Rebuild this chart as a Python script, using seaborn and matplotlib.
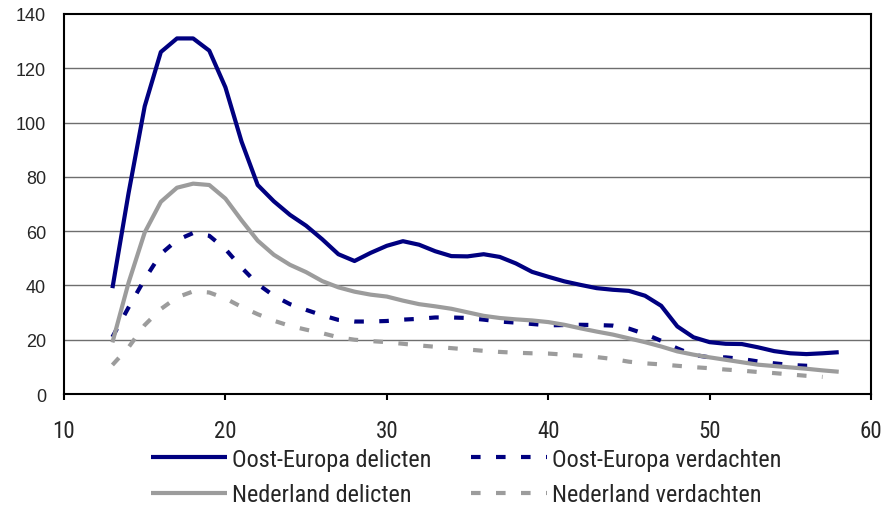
import matplotlib
matplotlib.use("Agg")
import matplotlib.pyplot as plt
from matplotlib import font_manager
from matplotlib.font_manager import FontProperties
import seaborn as sns
import pandas as pd

ages_del = list(range(13, 59))
ages_ver = list(range(13, 58))

oe_delicten = [39, 74, 106, 126, 131, 131, 126.5, 113, 93, 77, 71, 66, 62, 57, 51.5,
               49, 52, 54.6, 56.3, 55, 52.6, 50.8, 50.7, 51.5, 50.5, 48.1, 45, 43.2,
               41.5, 40.2, 39, 38.4, 38, 36.2, 32.5, 24.9, 20.9, 19.1, 18.5, 18.4,
               17.2, 15.8, 15, 14.7, 15, 15.4]
nl_delicten = [19, 41, 59.5, 70.8, 76, 77.5, 77, 72, 64, 56.5, 51.3, 47.6, 44.9, 41.6,
               39.3, 37.7, 36.6, 35.9, 34.4, 33.1, 32.3, 31.4, 30.1, 28.8, 28, 27.5,
               27.1, 26.5, 25.5, 24.2, 23, 21.9, 20.5, 19.1, 17.5, 15.7, 14.5, 13.5,
               12.6, 11.7, 10.8, 10.3, 9.8, 9.3, 8.7, 8.2]
oe_verdachten = [21, 31.9, 42.3, 51.6, 56.7, 59.3, 58.3, 53.4, 46.6, 40.5, 36.2, 33.1,
                 31, 29, 27.3, 26.7, 26.7, 26.9, 27.4, 27.7, 28.2, 28.2, 28, 27.4,
                 26.7, 26.3, 25.8, 25.3, 25.4, 25.5, 25.4, 25.2, 24.1, 22.1, 19.6,
                 16.8, 14.4, 13.5, 13.5, 12.9, 12, 11.3, 10.7, 10.4, 10.4]
nl_verdachten = [10.7, 17.2, 25.4, 31.3, 35.6, 37.8, 37.4, 35.2, 32.1, 29.4, 27, 25.1,
                 23.7, 22.4, 20.9, 20, 19.5, 19.1, 18.5, 17.9, 17.4, 16.9, 16.4, 15.9,
                 15.5, 15.2, 15, 14.9, 14.5, 14.1, 13.6, 12.9, 11.9, 11.3, 10.9, 10.4,
                 9.9, 9.5, 9, 8.6, 8.1, 7.7, 7.2, 6.7, 6.3]

labels = ["Oost-Europa delicten", "Oost-Europa verdachten",
          "Nederland delicten", "Nederland verdachten"]
x_ticks = [10, 20, 30, 40, 50, 60]
y_ticks = [0, 20, 40, 60, 80, 100, 120, 140]

NAVY = "#000080"
GREY = "#9c9c9c"

sns.set_theme(style="white")


def find_condensed():
    best = None
    for f in font_manager.fontManager.ttflist:
        fn = f.fname.lower()
        if ("condensed" in fn or "narrow" in fn) and "bold" not in fn \
                and "italic" not in fn and "light" not in fn and "thin" not in fn \
                and "semi" not in fn and "medium" not in fn and "black" not in fn \
                and "extra" not in fn and "oblique" not in fn:
            if "liberation" in fn:
                score = 5
            elif "roboto" in fn:
                score = 4
            elif "noto" in fn:
                score = 3
            elif "dejavu" in fn:
                score = 2
            else:
                score = 1
            if best is None or score > best[0]:
                best = (score, f.fname)
    return best[1] if best else None


cond_path = find_condensed()
names = {f.name for f in font_manager.fontManager.ttflist}
wide = "Liberation Sans" if "Liberation Sans" in names else "DejaVu Sans"
plt.rcParams["font.family"] = [wide, "DejaVu Sans"]


def cond_fp(size):
    if cond_path:
        return FontProperties(fname=cond_path, size=size)
    return FontProperties(family="DejaVu Sans", size=size * 0.82)


fig = plt.figure(figsize=(8.83, 5.10), dpi=100)
ax = fig.add_axes([64 / 883, 1 - 395 / 510, (871 - 64) / 883, (395 - 15) / 510])

lw = 3.0
series = [
    (ages_del, oe_delicten, NAVY, False),
    (ages_ver, oe_verdachten, NAVY, True),
    (ages_del, nl_delicten, GREY, False),
    (ages_ver, nl_verdachten, GREY, True),
]
handles = []
for (xs, ys, col, dashed), lab in zip(series, labels):
    df = pd.DataFrame({"x": xs, "y": ys})
    sns.lineplot(data=df, x="x", y="y", color=col, lw=lw, ax=ax, legend=False)
    ln = ax.lines[-1]
    ln.set_label(lab)
    if dashed:
        ln.set_dashes([2.3, 3.7])
        ln.set_dash_capstyle("butt")
    else:
        ln.set_solid_capstyle("butt")
        ln.set_solid_joinstyle("round")
    handles.append(ln)

ax.set_xlim(10, 60)
ax.set_ylim(0, 140)
ax.set_xticks(x_ticks)
ax.set_yticks(y_ticks)
ax.set_xticklabels([str(v) for v in x_ticks])
for t in ax.get_xticklabels():
    t.set_fontproperties(cond_fp(16.5))
ax.set_yticklabels([str(v) for v in y_ticks], fontsize=13, family=[wide, "DejaVu Sans"])
ax.set_xlabel("")
ax.set_ylabel("")
for y in y_ticks[1:-1]:
    ax.axhline(y, color="#6e6e6e", lw=1.0, zorder=0.5)
for s in ax.spines.values():
    s.set_color("black")
    s.set_linewidth(1.5)
    s.set_visible(True)
ax.tick_params(axis="x", direction="out", length=4, width=1.5, color="black", pad=14, bottom=True)
ax.tick_params(axis="y", length=0, pad=13, left=False)
ax.grid(False)

order = [handles[0], handles[2], handles[1], handles[3]]
fs_leg = 17.5
fig.legend(order, [h.get_label() for h in order], ncol=2, frameon=False,
           loc="upper left", bbox_to_anchor=(151 / 883, 1 - 449 / 510),
           prop=cond_fp(fs_leg), handlelength=3.13, handletextpad=0.2, columnspacing=1.65,
           labelspacing=0.5, borderpad=0, borderaxespad=0)

fig.savefig("out.png", dpi=100)
